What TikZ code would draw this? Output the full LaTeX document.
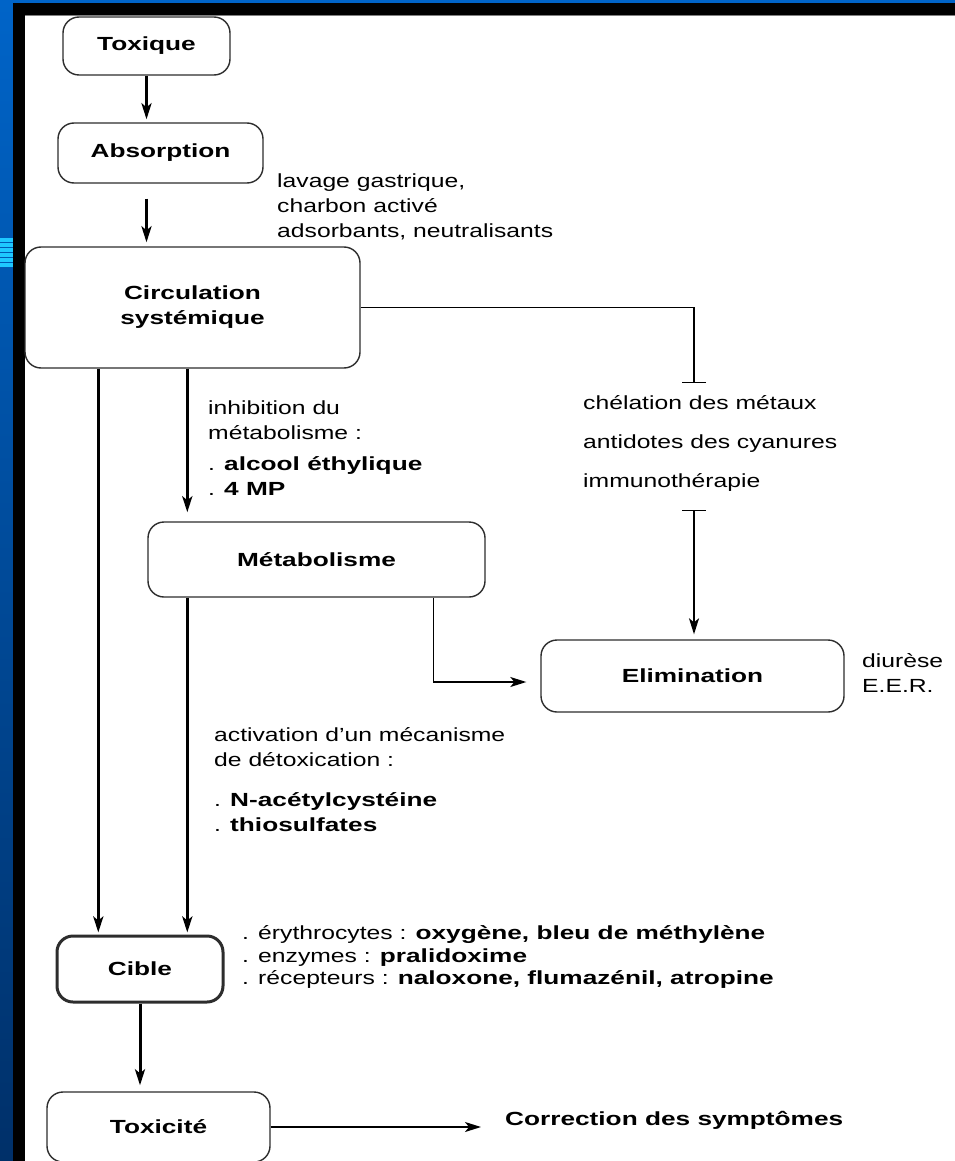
\documentclass[tikz,border=0pt]{standalone}
\usepackage{fontspec}
\setmainfont{Liberation Sans}[FakeStretch=1.3,BoldFeatures={FakeStretch=1.38}]
\usetikzlibrary{arrows.meta,calc}

\definecolor{slideblue}{RGB}{0,100,200}
\definecolor{slidenavy}{RGB}{0,48,105}
\definecolor{stripe}{RGB}{30,200,255}
\definecolor{edge}{RGB}{45,45,45}

\tikzset{
  box/.style={draw=edge, line width=1.4pt, rounded corners=16pt, font=\bfseries, align=center, inner sep=0pt},
  note/.style={anchor=west, inner sep=0pt, align=left},
  arr/.style={-{Stealth[length=16pt,width=10pt,inset=4pt]}, line width=3pt},
  thinarr/.style={-{Stealth[length=16pt,width=10pt,inset=4pt]}, line width=1.4pt},
  blockline/.style={-{Bar[width=24pt]}, line width=1.4pt},
}

\begin{document}
\fontsize{19}{25}\selectfont
\begin{tikzpicture}[x=1pt, y=-1pt]
                % slide background
                \useasboundingbox (0,0) rectangle (955,1161);
                \shade[top color=slideblue, bottom color=slidenavy] (0,0) rectangle (13,1161);
                \fill[slideblue] (13,0) rectangle (955,3);
                \foreach \y in {238,243,...,263} \fill[stripe] (0,\y) rectangle (13,\y+3.5);
                \fill[black] (13,3) rectangle (955,15);
                \fill[black] (13,3) rectangle (25,1161);
                \fill[white] (25,16) rectangle (955,1161);
                \draw[gray, line width=1pt] (25,15.5) -- (955,15.5);
                % boxes
                \node[box, minimum width=167, minimum height=58] (toxique) at (146.5,46) {Toxique};
                \node[box, minimum width=205, minimum height=60] (absorption) at (160.5,153) {Absorption};
                \node[box, minimum width=335, minimum height=121] (circulation) at (192.5,307.5) {Circulation\\systémique};
                \node[box, minimum width=337, minimum height=75] (metabolisme) at (316.5,559.5) {Métabolisme};
                \node[box, minimum width=303, minimum height=72] (elimination) at (692.5,676) {Elimination};
                \node[box, line width=3pt, minimum width=166, minimum height=66] (cible) at (140,969) {Cible};
                \node[box, minimum width=223, minimum height=70] (toxicite) at (158.5,1127) {Toxicité};
                % texts
                \node[note] (lavage) at (277,207) {lavage gastrique,\\charbon activé\\adsorbants, neutralisants};
                \node[note] (inhibition) at (208,448) {inhibition du\\métabolisme :\\[6pt]. \textbf{alcool éthylique}\\. \textbf{4 MP}};
                \node[note, font=\fontsize{19}{39}\selectfont] (antidotes) at (583,443) {chélation des métaux\\antidotes des cyanures\\immunothérapie};
                \node[note] (diurese) at (862,672.5) {diurèse\\E.E.R.};
                \node[note] (activation) at (214,780) {activation d'un mécanisme\\de détoxication :\\[15pt]. \textbf{N-acétylcystéine}\\. \textbf{thiosulfates}};
                \node[note, font=\fontsize{19}{22.5}\selectfont] (ciblenotes) at (242,957) {. érythrocytes : \textbf{oxygène, bleu de méthylène}\\. enzymes : \textbf{pralidoxime}\\. récepteurs : \textbf{naloxone, flumazénil, atropine}};
                \node[note, font=\bfseries] (correction) at (505,1120) {Correction des symptômes};
                % arrows
                \coordinate (leftdrop) at ($(circulation.south west)+(74,0)$);
                \coordinate (middrop) at ($(circulation.south west)+(163,0)$);
                \coordinate (metabout) at ($(metabolisme.south west)+(286,0)$);
                \coordinate (antidote) at (694,383);
                \coordinate (antidoteb) at (694,510);
                \draw[arr, shorten >=3pt] (toxique.south) -- (toxique.south |- absorption.north);
                \draw[arr, shorten <=15pt, shorten >=4pt] (absorption.south -| toxique) -- (circulation.north -| toxique);
                \draw[arr, shorten >=2pt] (leftdrop) -- (leftdrop |- cible.north);
                \draw[arr, shorten >=9pt] (middrop) -- (middrop |- metabolisme.north);
                \draw[arr, shorten >=2pt] (metabolisme.south -| middrop) -- (middrop |- cible.north);
                \draw[thinarr, shorten >=14pt] (metabout) |- ($(elimination.west)+(0,6)$);
                \draw[blockline] (circulation.east) -| (antidote);
                \draw[{Bar[width=24pt]}-{Stealth[length=16pt,width=10pt,inset=4pt]}, line width=1.4pt, shorten >=5pt] (antidoteb) -- (antidoteb |- elimination.north);
                \draw[arr, shorten >=6pt] (cible.south) -- (cible.south |- toxicite.north);
                \draw[thinarr, shorten >=24pt] (toxicite.east) -- (toxicite.east -| correction.west);
            \end{tikzpicture}
\end{document}
